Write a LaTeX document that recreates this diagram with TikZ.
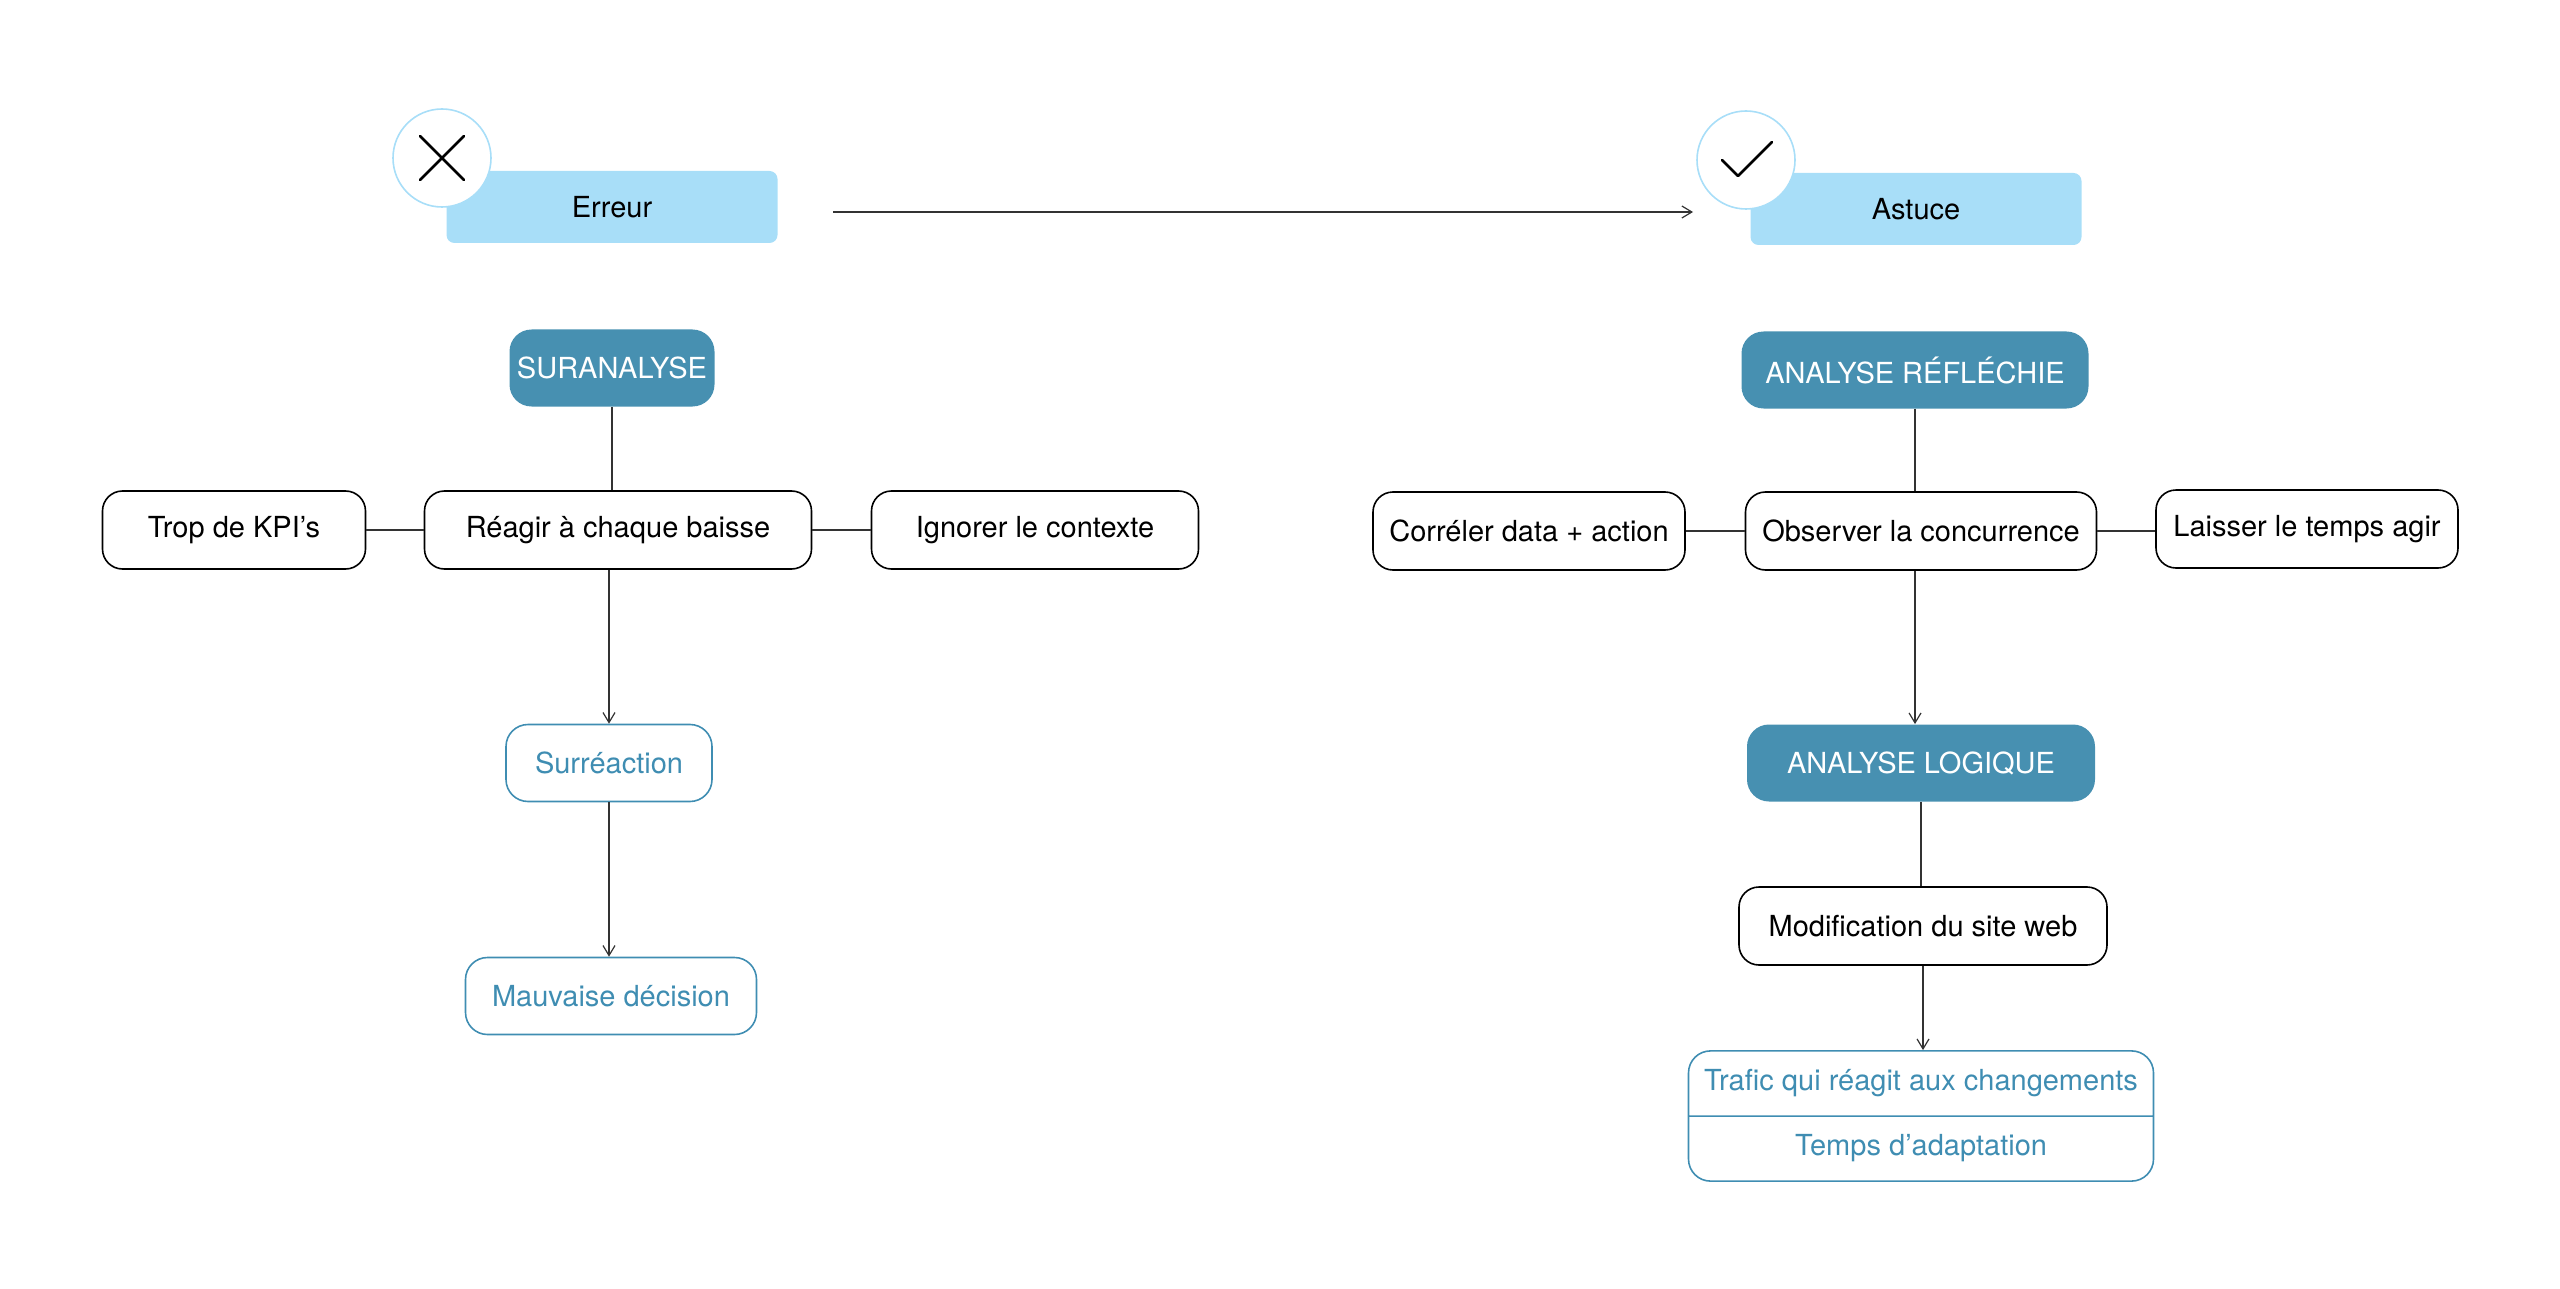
\documentclass[tikz,border=0pt]{standalone}
\usepackage{fontspec}
\setmainfont{TeX Gyre Heros}
\usetikzlibrary{arrows.meta,shapes.multipart}

\definecolor{skyblue}{HTML}{A8DEF8}
\definecolor{tealbox}{HTML}{4790B1}
\definecolor{tealtext}{HTML}{3F8DB2}

\tikzset{
  base/.style={font=\fontsize{14.5}{17}\selectfont},
  head/.style={base,fill=skyblue,rounded corners=4pt,minimum width=165.5pt,minimum height=36pt},
  stage/.style={base,draw=black,line width=0.8pt,rounded corners=10pt,minimum height=39pt},
  key/.style={base,fill=tealbox,text=white,rounded corners=11pt,minimum height=38.5pt},
  result/.style={base,draw=tealtext,text=tealtext,line width=0.8pt,rounded corners=11pt,minimum height=38.5pt},
  badge/.style={draw=skyblue,fill=white,line width=0.8pt,circle,minimum size=49pt},
  link/.style={draw=black!80,line width=0.6pt},
  flow/.style={link,-{Straight Barb[length=5pt,width=6pt]}}
}

\begin{document}
\begin{tikzpicture}[x=0.5pt,y=-0.5pt]
\useasboundingbox (0,0) rectangle (2560,1289);
% headers
\node[head] (err) at (612,207) {Erreur};
\node[badge] (no) at (442,158) {};
\draw[line width=1.3pt,line cap=round] (420,136) -- (464,180) (464,136) -- (420,180);
\node[head] (tip) at (1916,209) {Astuce};
\node[badge] (yes) at (1746,160) {};
\draw[line width=1.3pt,line cap=round,line join=round] (1722,160) -- (1738,176) -- (1772,142);
\coordinate (from) at (833,212);
\coordinate (to) at (1693,212);
\draw[flow] (from) -- (to);

% left side
\node[key] (over) at (612,368) [minimum width=102.5pt] {SURANALYSE};
\node[stage] (react) at (618,530) [minimum width=193.5pt] {Réagir à chaque baisse};
\node[stage] (kpi) at (234,530) [minimum width=131.5pt] {Trop de KPI’s};
\node[stage] (ctx) at (1035,530) [minimum width=163.5pt] {Ignorer le contexte};
\node[result] (surr) at (609,763) [minimum width=103pt] {Surréaction};
\node[result] (bad) at (611,996) [minimum width=145.5pt] {Mauvaise décision};
\draw[link] (over) -- (over|-react.north);
\draw[link] (kpi) -- (react);
\draw[link] (react) -- (ctx);
\draw[flow] (surr|-react.south) -- (surr.north);
\draw[flow] (surr) -- (surr|-bad.north);

% right side
\node[key] (think) at (1915,370) [minimum width=173.5pt] {ANALYSE RÉFLÉCHIE};
\node[stage] (watch) at (1921,531) [minimum width=175.5pt] {Observer la concurrence};
\node[stage] (corr) at (1529,531) [minimum width=156pt] {Corréler data + action};
\node[stage] (wait) at (2307,529) [minimum width=151pt] {Laisser le temps agir};
\node[key] (logic) at (1921,763) [minimum width=174pt] {ANALYSE LOGIQUE};
\node[stage] (site) at (1923,926) [minimum width=184pt] {Modification du site web};
\node[result,rectangle split,rectangle split parts=2,minimum width=232.5pt,
  inner ysep=9pt,minimum height=0pt] (traffic) at (1921,1116)
  {Trafic qui réagit aux changements\nodepart{two}Temps d’adaptation};
\draw[link] (think) -- (think|-watch.north);
\draw[link] (corr) -- (watch);
\draw[link] (watch) -- (wait.west|-watch);
\draw[flow] (think|-watch.south) -- (think|-logic.north);
\draw[link] (logic) -- (logic|-site.north);
\draw[flow] (site) -- (site|-traffic.north);
\end{tikzpicture}
\end{document}
